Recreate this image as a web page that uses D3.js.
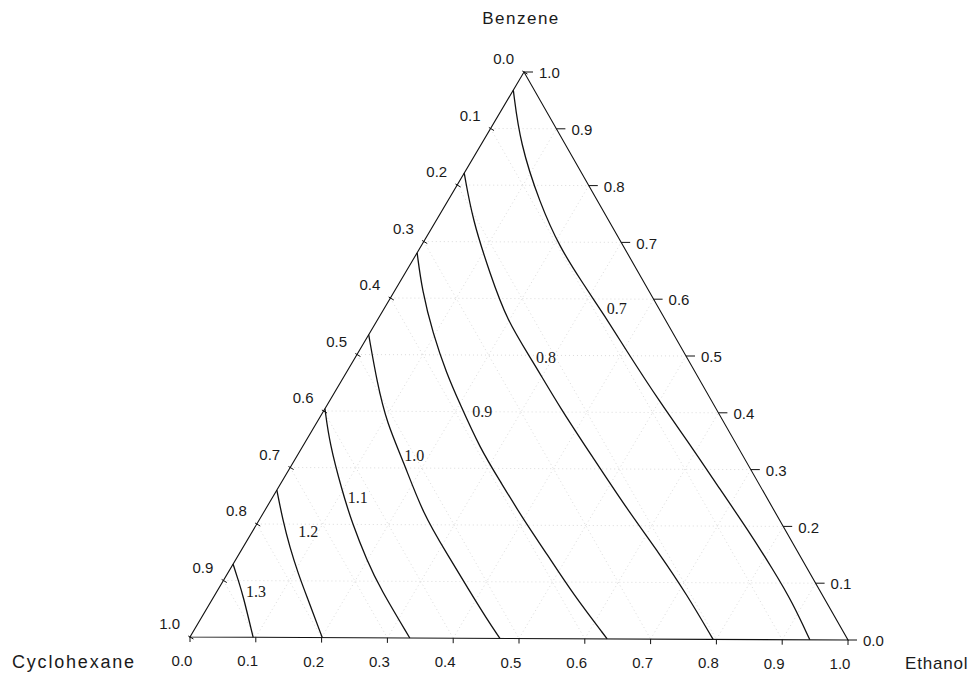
<!DOCTYPE html>
<html>
<head>
<style>
html, body {
    margin: 0;
    padding: 0;
    background: #fff;
}
text {
    font-family: "Liberation Sans", Arial, sans-serif;
    fill: #1a1a1a;
}
.iso-label {
    font-family: "Liberation Serif", "Times New Roman", serif;
}
</style>
</head>
<body>
<svg id="chart" width="975" height="678"></svg>

<script src="https://cdn.jsdelivr.net/npm/d3@7"></script>
<script>

// component names
var topName = "Benzene";
var leftName = "Cyclohexane";
var rightName = "Ethanol";

// tick values on every edge
var tickValues = [0, 0.1, 0.2, 0.3, 0.4, 0.5, 0.6, 0.7, 0.8, 0.9, 1.0];

// iso-lines as [benzene, ethanol] mole fractions
var isoValues = ["0.7", "0.8", "0.9", "1.0", "1.1", "1.2", "1.3"];

var iso07 = [[0.968, 0], [0.874, 0.058], [0.768, 0.142], [0.690, 0.212], [0.627, 0.279],
             [0.570, 0.341], [0.508, 0.406], [0.419, 0.501], [0.336, 0.594], [0.265, 0.671],
             [0.195, 0.748], [0.124, 0.823], [0.065, 0.883], [0, 0.942]];
var iso08 = [[0.821, 0], [0.738, 0.055], [0.644, 0.129], [0.561, 0.197], [0.490, 0.272],
             [0.407, 0.356], [0.319, 0.451], [0.230, 0.547], [0.149, 0.639], [0.078, 0.716],
             [0, 0.795]];
var iso09 = [[0.680, 0], [0.614, 0.041], [0.538, 0.096], [0.467, 0.153], [0.414, 0.200],
             [0.336, 0.270], [0.278, 0.330], [0.212, 0.398], [0.149, 0.467], [0.078, 0.543],
             [0, 0.634]];
var iso10 = [[0.535, 0], [0.450, 0.056], [0.379, 0.107], [0.313, 0.165], [0.219, 0.243],
             [0.149, 0.315], [0.083, 0.383], [0.035, 0.433], [0, 0.471]];
var iso11 = [[0.404, 0], [0.343, 0.038], [0.260, 0.099], [0.202, 0.144], [0.136, 0.200],
             [0.088, 0.244], [0, 0.334]];
var iso12 = [[0.260, 0], [0.207, 0.036], [0.159, 0.071], [0.113, 0.107], [0.071, 0.142],
             [0, 0.201]];
var iso13 = [[0.129, 0], [0.101, 0.022], [0.074, 0.043], [0, 0.096]];

var isoLines = [iso07, iso08, iso09, iso10, iso11, iso12, iso13];

// where each iso-line label sits, [benzene, ethanol]
var isoLabelAt = [[0.584, 0.337], [0.496, 0.274], [0.400, 0.226], [0.322, 0.162],
                  [0.248, 0.114], [0.188, 0.069], [0.081, 0.044]];

// triangle corners on the page
var C = {x: 190, y: 637};   // cyclohexane
var E = {x: 848, y: 640};   // ethanol
var B = {x: 524, y: 72};    // benzene

var exScale = d3.scaleLinear().domain([0, 1]).range([0, E.x - C.x]);
var eyScale = d3.scaleLinear().domain([0, 1]).range([0, E.y - C.y]);
var bxScale = d3.scaleLinear().domain([0, 1]).range([0, B.x - C.x]);
var byScale = d3.scaleLinear().domain([0, 1]).range([0, B.y - C.y]);

function px(b, e) { return C.x + exScale(e) + bxScale(b); }
function py(b, e) { return C.y + eyScale(e) + byScale(b); }

var fmt = d3.format(".1f");

var svg = d3.select("#chart");

// faint dotted grid
var grid = svg.append("g")
    .attr("fill", "none")
    .attr("stroke", "#d2d2d2")
    .attr("stroke-width", 0.8)
    .attr("stroke-dasharray", "1,3");

tickValues.slice(1, -1).forEach(function (t) {
    // benzene constant
    grid.append("line")
        .attr("x1", px(t, 0)).attr("y1", py(t, 0))
        .attr("x2", px(t, 1 - t)).attr("y2", py(t, 1 - t));
    // ethanol constant
    grid.append("line")
        .attr("x1", px(0, t)).attr("y1", py(0, t))
        .attr("x2", px(1 - t, t)).attr("y2", py(1 - t, t));
    // cyclohexane constant
    grid.append("line")
        .attr("x1", px(1 - t, 0)).attr("y1", py(1 - t, 0))
        .attr("x2", px(0, 1 - t)).attr("y2", py(0, 1 - t));
});

// triangle
svg.append("path")
    .attr("d", "M" + px(0, 0) + "," + py(0, 0) +
               "L" + px(0, 1) + "," + py(0, 1) +
               "L" + px(1, 0) + "," + py(1, 0) + "Z")
    .attr("fill", "none")
    .attr("stroke", "#111")
    .attr("stroke-width", 1.1);

// bottom axis: ethanol
var bottom = svg.append("g");
tickValues.forEach(function (t) {
    var x = px(0, t), y = py(0, t);
    bottom.append("line")
        .attr("x1", x).attr("y1", y).attr("x2", x).attr("y2", y + 5)
        .attr("stroke", "#111");
    bottom.append("text")
        .attr("x", x - 8).attr("y", y + 29)
        .attr("text-anchor", "middle")
        .attr("font-size", 15)
        .text(fmt(t));
});

// left axis: cyclohexane
var left = svg.append("g");
var lx = B.x - C.x, ly = B.y - C.y, ll = Math.sqrt(lx * lx + ly * ly);
var nx = ly / ll, ny = -lx / ll;   // outward normal
tickValues.forEach(function (t) {
    var x = px(1 - t, 0), y = py(1 - t, 0);
    left.append("line")
        .attr("x1", x + nx * 2).attr("y1", y + ny * 2)
        .attr("x2", x - nx * 4).attr("y2", y - ny * 4)
        .attr("stroke", "#111");
    left.append("text")
        .attr("x", x - 10).attr("y", y - 13)
        .attr("dy", "0.35em")
        .attr("text-anchor", "end")
        .attr("font-size", 15)
        .text(fmt(t));
});

// right axis: benzene
var right = svg.append("g");
tickValues.forEach(function (t) {
    var x = px(t, 1 - t), y = py(t, 1 - t);
    right.append("line")
        .attr("x1", x).attr("y1", y).attr("x2", x + 9).attr("y2", y)
        .attr("stroke", "#111");
    right.append("text")
        .attr("x", x + 15).attr("y", y + 1)
        .attr("dy", "0.35em")
        .attr("font-size", 15)
        .text(fmt(t));
});

// iso-lines
var line = d3.line()
    .x(function (d) { return px(d[0], d[1]); })
    .y(function (d) { return py(d[0], d[1]); })
    .curve(d3.curveBasis);

svg.append("g")
    .selectAll("path")
    .data(isoLines)
    .enter()
    .append("path")
    .attr("d", line)
    .attr("fill", "none")
    .attr("stroke", "#111")
    .attr("stroke-width", 1.3);

svg.append("g")
    .selectAll("text")
    .data(isoValues)
    .enter()
    .append("text")
    .attr("class", "iso-label")
    .attr("x", function (d, i) { return px(isoLabelAt[i][0], isoLabelAt[i][1]); })
    .attr("y", function (d, i) { return py(isoLabelAt[i][0], isoLabelAt[i][1]); })
    .attr("dy", "0.35em")
    .attr("font-size", 16)
    .text(function (d) { return d; });

// component names
svg.append("text")
    .attr("x", 521).attr("y", 24)
    .attr("text-anchor", "middle")
    .attr("font-size", 17)
    .attr("letter-spacing", 1.5)
    .text(topName);

svg.append("text")
    .attr("x", 12).attr("y", 668)
    .attr("font-size", 18)
    .attr("letter-spacing", 1.8)
    .text(leftName);

svg.append("text")
    .attr("x", 905).attr("y", 669)
    .attr("font-size", 17)
    .attr("letter-spacing", 0.8)
    .text(rightName);

</script>
</body>
</html>
